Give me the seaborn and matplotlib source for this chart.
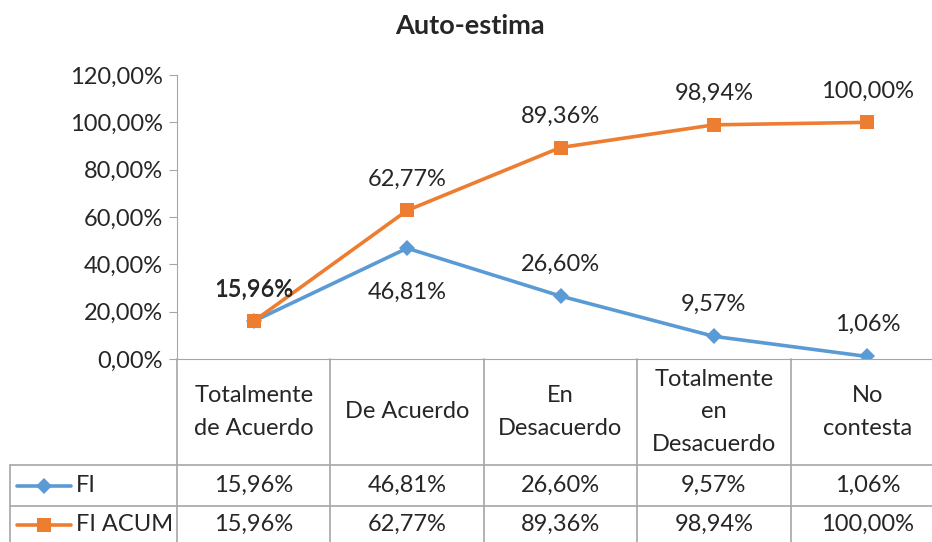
import pandas as pd
import matplotlib.pyplot as plt
import matplotlib.transforms as mtransforms
import seaborn as sns

categories = ["Totalmente\nde Acuerdo", "De Acuerdo", "En\nDesacuerdo",
              "Totalmente\nen\nDesacuerdo", "No\ncontesta"]
fi = [15.96, 46.81, 26.60, 9.57, 1.06]
fi_acum = [15.96, 62.77, 89.36, 98.94, 100.00]
series_names = ["FI", "FI ACUM"]

blue = "#5B9BD5"
orange = "#ED7D31"
grid_col = "#A6A6A6"
font_size = 17

sns.set_style("white")
plt.rcParams["font.family"] = ["Lato", "DejaVu Sans"]

def pct(v):
    return f"{v:.2f}%".replace(".", ",")

df = pd.DataFrame({
    "pos": list(range(len(categories))) * 2,
    "valor": fi + fi_acum,
    "serie": [series_names[0]] * len(fi) + [series_names[1]] * len(fi_acum),
})

fig = plt.figure(figsize=(9.32, 5.42), dpi=100)
ax = fig.add_axes([177 / 932, 1 - 359 / 542, 767 / 932, 284 / 542])

sns.lineplot(data=df, x="pos", y="valor", hue="serie", style="serie",
             markers={"FI": "D", "FI ACUM": "s"}, dashes=False,
             palette={"FI": blue, "FI ACUM": orange}, linewidth=2.6,
             markersize=9, markeredgewidth=0, legend=False, ax=ax, sort=False)
for line in ax.get_lines():
    if line.get_marker() == "s":
        line.set_markersize(10)
    else:
        line.set_markersize(8)

ax.set_xlim(-0.5, len(categories) - 0.5)
ax.set_ylim(0, 120)
yt = list(range(0, 121, 20))
ax.set_yticks(yt)
ax.set_yticklabels([pct(v) for v in yt], fontsize=font_size)
ax.set_xticks([])
ax.set_xlabel("")
ax.set_ylabel("")
for s in ["top", "right"]:
    ax.spines[s].set_visible(False)
ax.spines["left"].set_color(grid_col)
ax.spines["bottom"].set_color(grid_col)
ax.tick_params(axis="y", left=True, length=6, color=grid_col, pad=4)

# data labels
for i, v in enumerate(fi_acum):
    ax.annotate(pct(v), (i, v), xytext=(0, 31), textcoords="offset pixels",
                ha="center", va="center", fontsize=font_size)
for i, v in enumerate(fi):
    off = -44 if i == 1 else 32
    ax.annotate(pct(v), (i, v), xytext=(0, off), textcoords="offset pixels",
                ha="center", va="center", fontsize=font_size)

fig.text(470 / 932, 1 - 26 / 542, "Auto-estima", ha="center", va="center",
         fontsize=19.5, fontweight="bold")

# data table below the axis
tr = mtransforms.blended_transform_factory(ax.transData, ax.transAxes)
n = len(categories)
px = 153.4
left_edge = -0.5 - (177 - 10) / px
y_head = -106 / 284
y_fi = -147 / 284
y_acum = -190 / 284

for k in range(n + 1):
    ax.plot([k - 0.5, k - 0.5], [0, y_acum], transform=tr, color=grid_col,
            lw=1.2, clip_on=False)
ax.plot([left_edge, left_edge], [y_head, y_acum], transform=tr, color=grid_col,
        lw=1.2, clip_on=False)
for yy in [y_head, y_fi]:
    ax.plot([left_edge, n - 0.5], [yy, yy], transform=tr, color=grid_col,
            lw=1.2, clip_on=False)

for i, c in enumerate(categories):
    ax.text(i, y_head / 2, c, transform=tr, ha="center", va="center",
            fontsize=font_size, linespacing=1.65)
    ax.text(i, (y_head + y_fi) / 2, pct(fi[i]), transform=tr, ha="center",
            va="center", fontsize=font_size)
    ax.text(i, (y_fi + y_acum) / 2 + 0.01, pct(fi_acum[i]), transform=tr,
            ha="center", va="center", fontsize=font_size)

# legend keys in table
x0 = -0.5 - (177 - 17) / px
x1 = -0.5 - (177 - 71) / px
for yy, col, mk, ms, name in [((y_head + y_fi) / 2, blue, "D", 8, series_names[0]),
                               ((y_fi + y_acum) / 2 + 0.01, orange, "s", 10, series_names[1])]:
    ax.plot([x0, x1], [yy, yy], transform=tr, color=col, lw=2.6, clip_on=False)
    ax.plot([(x0 + x1) / 2], [yy], transform=tr, color=col, marker=mk,
            markersize=ms, markeredgewidth=0, clip_on=False)
    ax.text(x1 + 0.03, yy, name, transform=tr, ha="left", va="center",
            fontsize=font_size)

fig.savefig("out.png", dpi=100)
